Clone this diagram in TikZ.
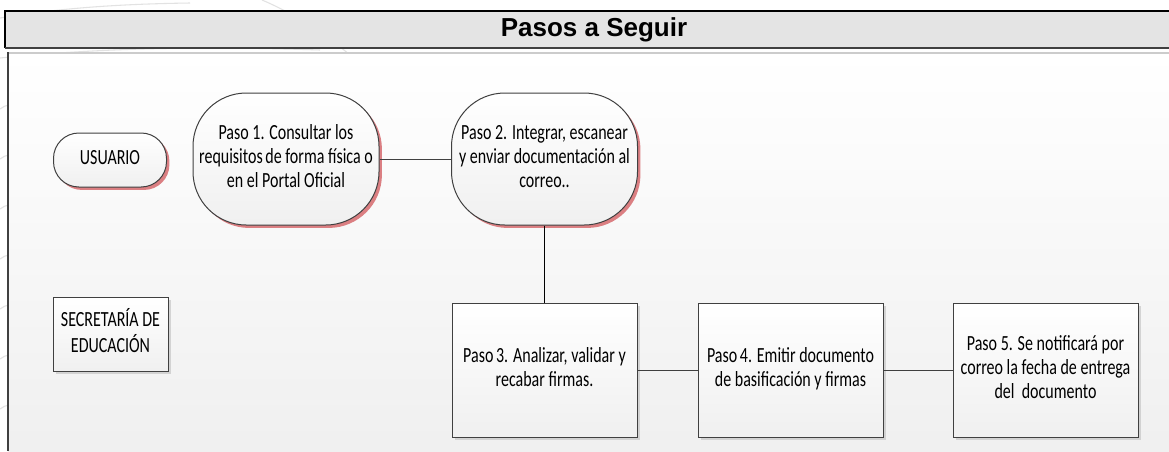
\documentclass[tikz,border=0pt]{standalone}
\usepackage{xcolor}
\usepackage{graphicx}
\usepackage{fontspec}
\setmainfont{Carlito}
\newfontfamily\headfont{Liberation Sans}
\usepackage{tikz}
\usetikzlibrary{shadows}

\definecolor{framegray}{HTML}{404040}
\definecolor{titlegray}{HTML}{E4E4E4}
\definecolor{redshadow}{HTML}{D66A6E}
\definecolor{decogray}{HTML}{E2E2E2}

% text of the boxes is set a bit taller than wide, as in the drawing
\newcommand\stretchtxt[1]{\scalebox{1}[1.35]{\begin{tabular}{@{}c@{}}#1\end{tabular}}}

\tikzset{
    boxtext/.style={font=\fontsize{12}{13.3}\selectfont, inner sep=0pt, text=black},
    boxfill/.style={draw=framegray, line width=0.75pt, top color=white, bottom color=gray!12},
    redcast/.style={drop shadow={fill=redshadow, shadow xshift=2.2pt, shadow yshift=-2.2pt, opacity=0.85}},
    graycast/.style={drop shadow={fill=gray!45, shadow xshift=2.2pt, shadow yshift=-2.2pt, opacity=0.7}},
    roundpaso/.style={boxtext, boxfill, redcast, rounded corners=40pt, minimum width=139.5pt, minimum height=99pt},
    actorround/.style={boxtext, boxfill, redcast, rounded corners=19pt, minimum width=84.75pt, minimum height=40.5pt},
    actorbox/.style={boxtext, boxfill, graycast, minimum width=86.25pt, minimum height=55.5pt},
    rectpaso/.style={boxtext, boxfill, graycast, minimum width=138.75pt, minimum height=100.5pt},
    thinlink/.style={draw=framegray, line width=0.6pt},
    thicklink/.style={draw=black, line width=1.1pt}
}

\begin{document}
\begin{tikzpicture}[x=0.75pt,y=0.75pt,yscale=-1,xscale=1]
        \useasboundingbox (0,0) rectangle (1169,451);
        \fill[white] (0,0) rectangle (1169,451);

        % faint arcs of the page background
        \draw[decogray, line width=0.8pt] (0,18) .. controls (60,8) and (120,4) .. (190,3);
        \draw[decogray, line width=0.8pt] (262,0) .. controls (295,14) and (325,34) .. (350,55);
        \draw[decogray, line width=0.8pt] (0,58) .. controls (100,48) and (200,46) .. (320,50);
        \foreach \yy in {105,155,205,255,305,355,405}
            \draw[decogray, line width=0.8pt] (0,\yy+4) .. controls (3,\yy+2) and (6,\yy) .. (9,\yy);

        % title bar
        \fill[titlegray] (5,11) rectangle (1172,48);
        \draw[black, line width=0.8pt] (1172,11) -- (5,11) -- (5,48);
        \draw[framegray, line width=1.5pt] (5,48) -- (1172,48);
        \node[font=\headfont\bfseries\fontsize{19.5}{22}\selectfont, inner sep=0pt] (title) at (594,30) {Pasos a Seguir};

        % swimlane area
        \shade[top color=white, bottom color=gray!12] (8,53) rectangle (1169,451);
        \draw[gray!40, line width=1.5pt] (8,52.5) -- (1169,52.5);
        \draw[framegray, line width=0.8pt] (8,52) -- (8,451);

        % actors
        \node[actorround] (usuario) at (110,160) {\stretchtxt{USUARIO}};
        \node[actorbox] (secretaria) at (110.5,334) {\stretchtxt{SECRETARÍA DE\\EDUCACIÓN}};

        % steps
        \node[roundpaso] (paso1) at (286,159) {\stretchtxt{Paso 1. Consultar los\\requisitos\,de forma física o\\en el Portal Oficial}};
        \node[roundpaso] (paso2) at (544.5,159) {\stretchtxt{Paso 2. Integrar, escanear\\y enviar documentación al\\correo..}};
        \node[rectpaso] (paso3) at (544.5,370) {\stretchtxt{Paso\,3. Analizar, validar y\\recabar firmas.}};
        \node[rectpaso] (paso4) at (790.5,370) {\stretchtxt{Paso\,4. Emitir documento\\de basificación y firmas}};
        \node[rectpaso] (paso5) at (1045.5,370) {\stretchtxt{Paso 5. Se notificará por\\correo la fecha de entrega\\del\ \ documento}};

        % links
        \draw[thinlink] (paso1.east) -- (paso2.west);
        \draw[thicklink] (paso2.south) -- (paso3.north);
        \draw[thinlink] (paso3.east) -- (paso4.west);
        \draw[thinlink] (paso4.east) -- (paso5.west);
\end{tikzpicture}
\end{document}
